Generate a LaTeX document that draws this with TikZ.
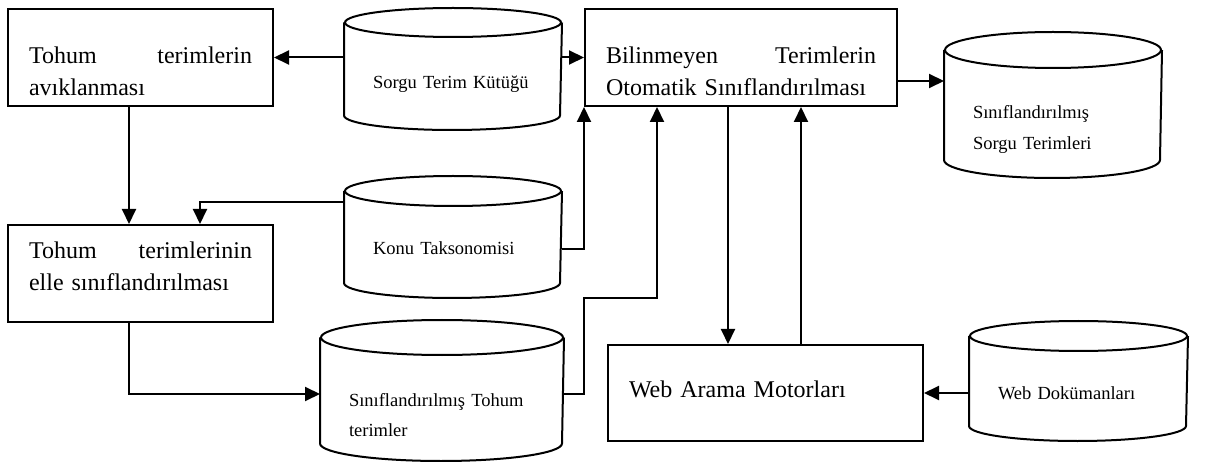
\documentclass[tikz,border=0pt]{standalone}
\usepackage{fontspec}
\setmainfont{Liberation Serif}
\usetikzlibrary{arrows.meta}

\begin{document}
\begin{tikzpicture}[x=1pt, y=-1pt, >={Triangle[length=15pt,width=14pt]}, line width=2pt,
        proc/.style={draw, rectangle, minimum height=97pt, inner xsep=21pt, inner ysep=0pt, align=left, font=\fontsize{24}{32}\selectfont},
        store/.style={rectangle, inner xsep=28pt, inner ysep=0pt, align=left, font=\fontsize{18.5}{31}\selectfont}]
        \useasboundingbox (0,0) rectangle (1205,462);

        % Left column: seed terms
        \node[proc, text width=223pt, text height=22pt, text depth=10.4pt] (ayik) at (140.5,57.5) {Tohum\hfill terimlerin\\avıklanması};
        \node[proc, text width=223pt, text height=4pt, text depth=34.4pt] (elle) [below of=ayik, node distance=216pt] {Tohum\hfill terimlerinin\\elle sınıflandırılması};

        % Middle column: data stores
        \node[store, text width=160pt, minimum height=120pt, text height=40pt, text depth=1.4pt] (kutuk) at (453,69) {Sorgu Terim Kütüğü};
        \node[store, text width=160pt, minimum height=120pt, text height=38pt, text depth=2pt] (konu) [below of=kutuk, node distance=168pt] {Konu Taksonomisi};
        \node[store, text width=186pt, minimum height=139pt, text height=33pt, text depth=2pt] (tohumsinif) at (442,390.5) {Sınıflandırılmış Tohum\\terimler};

        % Right part: classification and web search
        \node[proc, text width=270pt, text height=22pt, text depth=10.4pt] (otomatik) at (741,57.5) {Bilinmeyen\hfill Terimlerin\\Otomatik Sınıflandırılması};
        \node[proc, text width=273pt, minimum height=96pt, text height=20pt, text depth=11.4pt] (arama) at (765.5,393) {Web Arama Motorları};
        \node[store, text width=160pt, minimum height=144pt, text height=30pt, text depth=2pt] (sorgusinif) at (1053,105) {Sınıflandırılmış\\Sorgu Terimleri};
        \node[store, text width=161pt, minimum height=118pt, text height=38pt, text depth=2pt] (webdok) at (1078.5,381) {Web Dokümanları};

        % Cylinder outlines of the stores
        \foreach \n/\rx/\ry in {kutuk/108/14.5, konu/108/15, sorgusinif/108/18, tohumsinif/121/17.5, webdok/108.5/15} {
            \draw ([yshift=-\ry pt]\n.north) ellipse [x radius=\rx pt, y radius=\ry pt];
            \draw ([yshift=-\ry pt]\n.north west) -- ([yshift=\ry pt]\n.south west)
                arc [start angle=180, end angle=360, x radius=\rx pt, y radius=\ry pt] -- ([yshift=-\ry pt]\n.north east);
        }

        % Connectors
        \draw[->] (kutuk.west |- ayik.east) -- (ayik.east);
        \draw[->] (kutuk.east |- otomatik.west) -- (otomatik.west);
        \draw[->] ([xshift=-11.5pt]ayik.south) -- ([xshift=-11.5pt]elle.north);
        \draw[->] ([yshift=35pt]konu.west) -| ([xshift=59.5pt]elle.north);
        \draw[->] ([yshift=-12pt]konu.east) -| (otomatik.south west);
        \draw[->] ([xshift=-11.5pt]elle.south) |- ([yshift=-3.5pt]tohumsinif.west);
        \draw[->] ([yshift=-3pt]tohumsinif.east) -| ([yshift=-191pt]otomatik.south west) -| ([xshift=-84pt]otomatik.south);
        \draw[->] ([xshift=-13pt]otomatik.south) -- ([xshift=-13pt]otomatik.south |- arama.north);
        \draw[->] ([xshift=60pt]otomatik.south |- arama.north) -- ([xshift=60pt]otomatik.south);
        \draw[->] ([yshift=-23.5pt]otomatik.east) -- ([yshift=-23.5pt]otomatik.east -| sorgusinif.west);
        \draw[->] (arama.east -| webdok.west) -- (arama.east);
\end{tikzpicture}
\end{document}
